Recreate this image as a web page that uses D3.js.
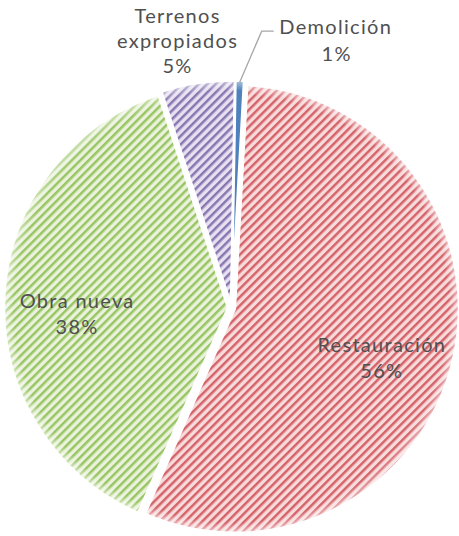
<!DOCTYPE html>
<html lang="es">
<head>
<meta charset="utf-8">
<title>Pie</title>
<script src="https://d3js.org/d3.v7.min.js"></script>
<style>
  body { margin: 0; background: #fff; }
  text { font-family: "Lato", "Open Sans", "DejaVu Sans", sans-serif; font-weight: 400; fill: #505050; letter-spacing: 1.3px; }
</style>
</head>
<body>
<script>
// data
var categories = ["Demolición", "Restauración", "Obra nueva", "Terrenos expropiados"];
var values = [0.6, 55.7, 38.4, 5.3];
var pctLabels = ["1%", "56%", "38%", "5%"];
var stripeColors = ["#4f81bd", "#d4626a", "#98c563", "#8876b0"];
var backColors = ["#4f81bd", "#f7dada", "#eaf2dc", "#e6e0f1"];

var w = 459, h = 536;
var cx = 231.5, cy = 308, R = 224;
var explode = 3.5;
var startDeg = 1;

var svg = d3.select("body").append("svg")
  .attr("width", w)
  .attr("height", h);

var defs = svg.append("defs");

// striped pattern fills
categories.forEach(function(c, i) {
  var p = defs.append("pattern")
    .attr("id", "pat" + i)
    .attr("patternUnits", "userSpaceOnUse")
    .attr("width", 6)
    .attr("height", 6)
    .attr("patternTransform", "rotate(45)");
  p.append("rect").attr("width", 6).attr("height", 6).attr("fill", backColors[i]);
  p.append("rect").attr("width", 2.5).attr("height", 6).attr("fill", stripeColors[i]);
});

// soft edge
var grad = defs.append("radialGradient")
  .attr("id", "soft")
  .attr("gradientUnits", "userSpaceOnUse")
  .attr("cx", 0).attr("cy", 0).attr("r", R);
grad.append("stop").attr("offset", "0.955").attr("stop-color", "#fff").attr("stop-opacity", 0);
grad.append("stop").attr("offset", "1").attr("stop-color", "#fff").attr("stop-opacity", 0.55);

var a0 = startDeg * Math.PI / 180;
var pie = d3.pie().sort(null).startAngle(a0).endAngle(a0 + 2 * Math.PI);
var arcs = pie(values);

var arc = d3.arc().innerRadius(0).outerRadius(R);

var g = svg.append("g").attr("transform", "translate(" + cx + "," + cy + ")");

function mid(d) { return (d.startAngle + d.endAngle) / 2; }

var slices = g.selectAll("g.slice")
  .data(arcs)
  .enter()
  .append("g")
  .attr("class", "slice")
  .attr("transform", function(d) {
    var m = mid(d);
    return "translate(" + (explode * Math.sin(m)) + "," + (-explode * Math.cos(m)) + ")";
  });

slices.append("path")
  .attr("d", arc)
  .attr("fill", function(d, i) { return "url(#pat" + i + ")"; });

slices.append("path")
  .attr("d", arc)
  .attr("fill", "url(#soft)")
  .attr("stroke", "#fff")
  .attr("stroke-width", 2.4);

var fs = 20;

// inside labels
var inner = d3.arc().innerRadius(R * 0.69).outerRadius(R * 0.69);
[1, 2].forEach(function(i) {
  var c = inner.centroid(arcs[i]);
  var t = g.append("text")
    .attr("text-anchor", "middle")
    .attr("font-size", fs);
  t.append("tspan").attr("x", c[0]).attr("y", c[1] + 8).text(categories[i]);
  t.append("tspan").attr("x", c[0]).attr("y", c[1] + 34).text(pctLabels[i]);
});

// Terrenos expropiados, outside
var outer = d3.arc().innerRadius(R * 1.2).outerRadius(R * 1.2);
var ct = outer.centroid(arcs[3]);
var words = categories[3].split(" ");
var tt = g.append("text").attr("text-anchor", "middle").attr("font-size", fs);
tt.append("tspan").attr("x", ct[0] - 14).attr("y", ct[1] - 19).text(words[0]);
tt.append("tspan").attr("x", ct[0] - 14).attr("y", ct[1] + 6).text(words[1]);
tt.append("tspan").attr("x", ct[0] - 14).attr("y", ct[1] + 31).text(pctLabels[3]);

// Demolición with leader line
var m0 = mid(arcs[0]);
var p0 = [(R + 2) * Math.sin(m0), -(R + 2) * Math.cos(m0)];
var elbow = [p0[0] + 22, p0[1] - 51];
var lineEnd = [elbow[0] + 12, elbow[1]];
g.append("polyline")
  .attr("points", [p0, elbow, lineEnd].map(function(p) { return p.join(","); }).join(" "))
  .attr("fill", "none")
  .attr("stroke", "#a6a6a6")
  .attr("stroke-width", 1.3);
var td = g.append("text").attr("text-anchor", "middle").attr("font-size", fs);
td.append("tspan").attr("x", lineEnd[0] + 62).attr("y", lineEnd[1] + 3).text(categories[0]);
td.append("tspan").attr("x", lineEnd[0] + 63).attr("y", lineEnd[1] + 30).text(pctLabels[0]);
</script>
</body>
</html>
